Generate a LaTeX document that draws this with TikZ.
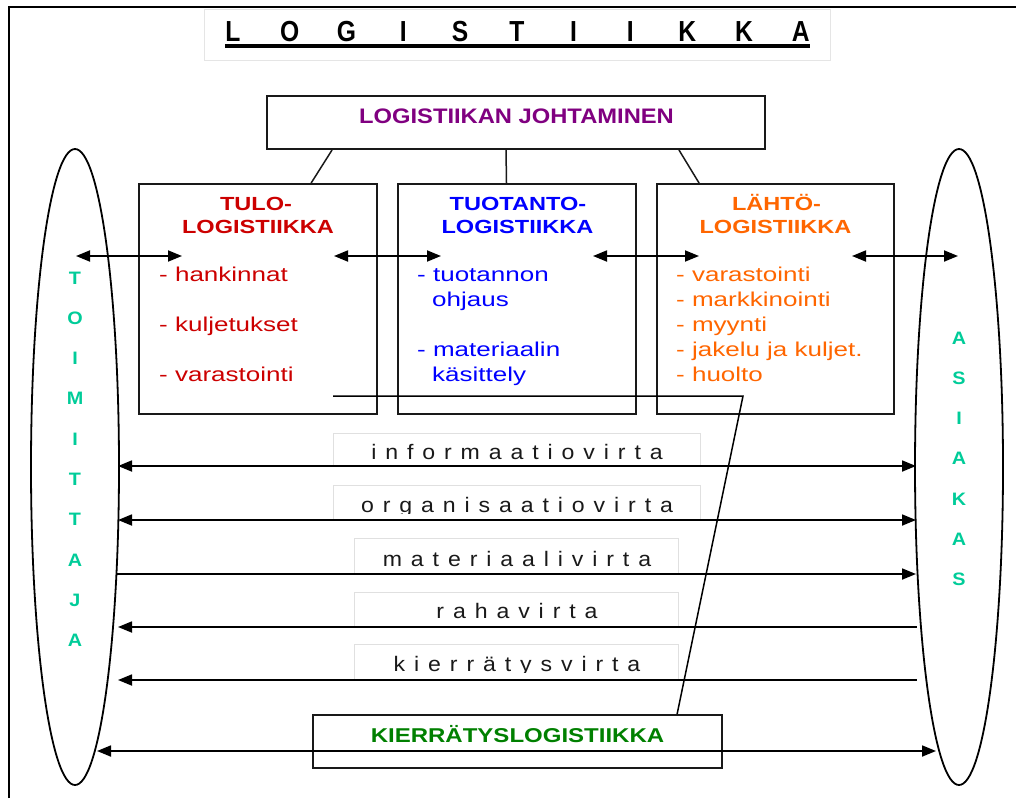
\documentclass[tikz,border=0pt]{standalone}
\usepackage{fontspec}
\setmainfont{Liberation Sans}
\newfontfamily\itemfont[FakeStretch=1.3]{Liberation Sans}
\newfontfamily\headfont[FakeStretch=1.24]{Liberation Sans}
\newfontfamily\topfont[FakeStretch=1.13]{Liberation Sans}
\newfontfamily\recyfont[FakeStretch=1.2]{Liberation Sans}
\newfontfamily\titlefont[FakeStretch=0.85]{Liberation Sans}
\newfontfamily\sidefont[FakeStretch=1.1]{Liberation Sans}
\newfontfamily\flowfont[FakeStretch=1.1]{Liberation Sans}
\usetikzlibrary{arrows.meta,shapes.geometric}

\definecolor{mgmtcol}{HTML}{800080}
\definecolor{inboundcol}{HTML}{CC0000}
\definecolor{prodcol}{HTML}{0000FF}
\definecolor{outboundcol}{HTML}{FF6600}
\definecolor{partycol}{HTML}{00CC99}
\definecolor{recycol}{HTML}{008000}

% wide word spacing for the letter-spaced flow names
\newcommand\flowspacing{\spaceskip=8.9pt\relax}

\tikzset{
  frame/.style={line width=2pt, draw=black},
  titlebox/.style={draw=black!10, line width=0.8pt, inner sep=0pt},
  titleletter/.style={font=\titlefont\bfseries\fontsize{29}{32}\selectfont, inner sep=0pt, anchor=base},
  box/.style={draw=black!90, line width=1.8pt, inner sep=0pt},
  joinline/.style={draw=black!90, line width=1.5pt},
  head/.style={font=\headfont\bfseries\fontsize{19}{22}\selectfont, inner sep=0pt, anchor=base},
  item/.style={font=\itemfont\fontsize{20}{25}\selectfont, inner sep=0pt, anchor=base west},
  party/.style={draw=black, line width=1.8pt, ellipse, minimum width=88pt, minimum height=636pt, inner sep=0pt},
  sideletter/.style={font=\sidefont\bfseries\fontsize{18}{20}\selectfont, text=partycol, inner sep=0pt, anchor=base},
  link/.style={line width=1.8pt, draw=black},
  flowbox/.style={draw=black!12, line width=0.8pt, fill=white, inner sep=0pt},
  flowtext/.style={font=\flowfont\fontsize{21}{24}\selectfont, execute at begin node=\flowspacing, text=black!90, inner sep=0pt, anchor=base},
}

\begin{document}
\begin{tikzpicture}[x=1pt, y=-1pt, >={Triangle[length=14pt,width=11pt]}]
\useasboundingbox (0,0) rectangle (1016,798);
\fill[white] (0,0) rectangle (1016,798);

% page frame (top and left edges)
\draw[frame] (8.5,798) -- (8.5,6.5) -- (1016,6.5);

% heading
\node[titlebox, minimum width=626pt, minimum height=51pt] (titlebox) at (517,34.5) {};
\foreach \ch [count=\i from 0] in {L,O,G,I,S,T,I,I,K,K,A}
  \node[titleletter] (tl\i) at (232.8+56.8*\i, 41) {\ch};
\draw[line width=3.5pt] ([yshift=-5pt]tl0.base west) -- ([yshift=-5pt]tl10.base east);

% supplier and customer
\node[party] (sup) at (75,467) {};
\node[party] (cus) at (959,467) {};
\foreach \ch [count=\i from 0] in {T,O,I,M,I,T,T,A,J,A}
  \node[sideletter] (sl\i) at (75, 284+40.3*\i) {\ch};
\foreach \ch [count=\i from 0] in {A,S,I,A,K,A,S}
  \node[sideletter] (cl\i) at (959, 344+40.3*\i) {\ch};

% management box
\node[box, minimum width=498pt, minimum height=53pt] (mgmt) at (516,122.5) {};
\node[font=\topfont\bfseries\fontsize{21}{24}\selectfont, text=mgmtcol, inner sep=0pt, anchor=base]
  (mgmt-t) at (516.5,123) {LOGISTIIKAN JOHTAMINEN};

% the three logistics areas
\node[box, minimum width=238pt, minimum height=230pt] (tulo) at (258,299) {};
\node[box, minimum width=238pt, minimum height=230pt] (prod) at (517,299) {};
\node[box, minimum width=237pt, minimum height=230pt] (lahto) at (775.5,299) {};

\draw[joinline] ([xshift=66pt]mgmt.south west) -- ([xshift=173pt]tulo.north west);
\draw[joinline] ([xshift=-10pt]mgmt.south) -- ([xshift=-10.5pt]prod.north);
\draw[joinline] ([xshift=-87pt]mgmt.south east) -- ([xshift=43pt]lahto.north west);

\node[head, text=inboundcol] (tulo-h1) at (256,210) {TULO-};
\node[head, text=inboundcol] (tulo-h2) at (258,233) {LOGISTIIKKA};
\node[item, text=inboundcol] (tulo-1) at (159,281) {- hankinnat};
\node[item, text=inboundcol] (tulo-2) at (159,331) {- kuljetukset};
\node[item, text=inboundcol] (tulo-3) at (159,381) {- varastointi};

\node[head, text=prodcol] (prod-h1) at (518,210) {TUOTANTO-};
\node[head, text=prodcol] (prod-h2) at (517.5,233) {LOGISTIIKKA};
\node[item, text=prodcol] (prod-1) at (417,281) {- tuotannon};
\node[item, text=prodcol] (prod-2) at (432,306) {ohjaus};
\node[item, text=prodcol] (prod-3) at (417,356) {- materiaalin};
\node[item, text=prodcol] (prod-4) at (432,381) {käsittely};

\node[head, text=outboundcol] (lahto-h1) at (776.5,210) {LÄHTÖ-};
\node[head, text=outboundcol] (lahto-h2) at (775.5,233) {LOGISTIIKKA};
\node[item, text=outboundcol] (lahto-1) at (676,281) {- varastointi};
\node[item, text=outboundcol] (lahto-2) at (676,306) {- markkinointi};
\node[item, text=outboundcol] (lahto-3) at (676,331) {- myynti};
\node[item, text=outboundcol] (lahto-4) at (676,356) {- jakelu ja kuljet.};
\node[item, text=outboundcol] (lahto-5) at (676,381) {- huolto};

% links between the areas
\coordinate (h0) at (76,256);  \coordinate (h1) at (182,256);
\coordinate (h2) at (334,256); \coordinate (h3) at (441,256);
\coordinate (h4) at (593,256); \coordinate (h5) at (699,256);
\coordinate (h6) at (852,256); \coordinate (h7) at (958,256);
\draw[link,<->] (h0) -- (h1);
\draw[link,<->] (h2) -- (h3);
\draw[link,<->] (h4) -- (h5);
\draw[link,<->] (h6) -- (h7);

% recycling logistics box
\node[box, minimum width=409pt, minimum height=53pt] (kierr) at (517.5,741.5) {};
\node[font=\recyfont\bfseries\fontsize{20}{24}\selectfont, text=recycol, inner sep=0pt, anchor=base]
  (kierr-t) at (517.5,742) {KIERRÄTYSLOGISTIIKKA};

% flow labels
\node[flowbox, minimum width=367pt, minimum height=33pt] (fb1) at (516.5,449.5) {};
\node[flowbox, minimum width=367pt, minimum height=35pt] (fb2) at (516.5,502.5) {};
\node[flowbox, minimum width=324pt, minimum height=36pt] (fb3) at (516,556) {};
\node[flowbox, minimum width=324pt, minimum height=35pt] (fb4) at (516,609.5) {};
\node[flowbox, minimum width=324pt, minimum height=36pt] (fb5) at (516,662) {};

\node[flowtext] (ft1) at (517,459) {i n f o r m a a t i o v i r t a};
\begin{scope}
  \clip (333,485) rectangle (700,513.5);
  \node[flowtext] (ft2) at (517,512.5) {o r g a n i s a a t i o v i r t a};
\end{scope}
\node[flowtext] (ft3) at (517,566) {m a t e r i a a l i v i r t a};
\node[flowtext] (ft4) at (517,618) {r a h a v i r t a};
\begin{scope}
  \clip (354,644) rectangle (678,672);
  \node[flowtext] (ft5) at (517,671) {k i e r r ä t y s v i r t a};
\end{scope}

% flows between supplier and customer
\coordinate (s1) at (118,466); \coordinate (c1) at (916,466);
\coordinate (s2) at (118,520); \coordinate (c2) at (916,520);
\coordinate (s3) at (117,574); \coordinate (c3) at (916,574);
\coordinate (s4) at (118,627); \coordinate (c4) at (917,627);
\coordinate (s5) at (118,680); \coordinate (c5) at (917,680);
\coordinate (s6) at (97,751);  \coordinate (c6) at (936,751);
\draw[link,<->] (s1) -- (c1);
\draw[link,<->] (s2) -- (c2);
\draw[link,->]  (s3) -- (c3);
\draw[link,<-]  (s4) -- (c4);
\draw[link,<-]  (s5) -- (c5);
\draw[link,<->] (s6) -- (c6);

% recycling line from the areas down to the recycling box
\coordinate (r0) at (333,396);
\coordinate (r1) at (743,396);
\draw[link, line width=1.5pt] (r0) -- (r1) -- ([xshift=365pt]kierr.north west);
\end{tikzpicture}
\end{document}
